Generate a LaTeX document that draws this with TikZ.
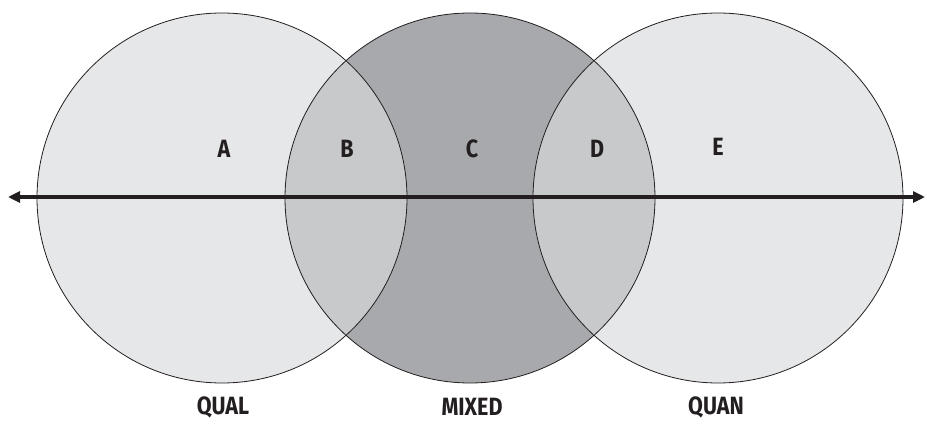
\documentclass[tikz,border=0pt]{standalone}
\usepackage{fontspec}
\newfontfamily\labfont[FakeStretch=0.86]{Fira Sans}
\usetikzlibrary{arrows.meta}
\definecolor{lightc}{HTML}{E6E7E8}
\definecolor{midc}{HTML}{C8C9CB}
\definecolor{darkc}{HTML}{A7A9AC}
\definecolor{inkc}{HTML}{231F20}
\tikzset{
  lab/.style={font=\labfont\bfseries\fontsize{25}{28}\selectfont, text=inkc, inner sep=0pt},
  ring/.style={draw=inkc, line width=0.8pt},
  axis/.style={draw=inkc, line width=4pt, {Triangle[length=12pt,width=11pt]}-{Triangle[length=12pt,width=11pt]}}
}
\begin{document}
\begin{tikzpicture}[x=1pt,y=1pt]
\useasboundingbox (0,0) rectangle (927,437);
% fills
\fill[lightc] (222,239) circle (185);
\fill[lightc] (718,239) circle (185);
\fill[darkc] (470,239) circle (185);
\begin{scope}
  \clip (222,239) circle (185);
  \fill[midc] (470,239) circle (185);
\end{scope}
\begin{scope}
  \clip (718,239) circle (185);
  \fill[midc] (470,239) circle (185);
\end{scope}
% outlines
\node[ring, circle, minimum size=370pt, inner sep=0pt] (qual) at (222,239) {};
\node[ring, circle, minimum size=370pt, inner sep=0pt] (mixed) at (470,239) {};
\node[ring, circle, minimum size=370pt, inner sep=0pt] (quan) at (718,239) {};
% axis
\coordinate (lend) at (8,240);
\coordinate (rend) at (925,240);
\draw[axis] (lend) -- (rend);
% region labels
\node[lab] (a) at (224,288) {A};
\node[lab] (b) at (347,288) {B};
\node[lab] (c) at (472,288) {C};
\node[lab] (d) at (597,288) {D};
\node[lab] (e) at (718,290) {E};
% bottom labels
\node[lab] (tqual) at (223,30) {QUAL};
\node[lab] (tmixed) at (472,30) {MIXED};
\node[lab] (tquan) at (716,30) {QUAN};
\end{tikzpicture}
\end{document}
